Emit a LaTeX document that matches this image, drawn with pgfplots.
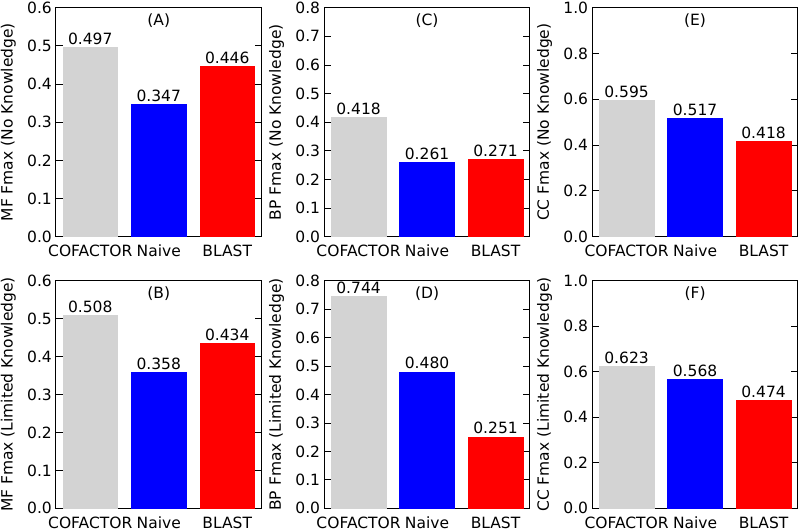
\documentclass[border=0pt]{standalone}
\usepackage{pgfplots}
\pgfplotsset{compat=1.18}
\usepackage{fontspec}
\setmainfont{DejaVu Sans}
\definecolor{cgray}{RGB}{211,211,211}
\definecolor{cblue}{RGB}{0,0,255}
\definecolor{cred}{RGB}{255,0,0}
\newcommand{\myfont}{\fontsize{15.5}{18}\selectfont}
\pgfplotsset{
  panel/.style={
    scale only axis, anchor=south west,
    width=205.5pt,
    xmin=-0.5, xmax=2.5, ymin=0,
    xtick={0,1,2}, xticklabels={COFACTOR,Naive,BLAST},
    x tick style={draw=none},
    ytick pos=both, tick align=inside,
    major tick length=7pt,
    axis line style={line width=1pt},
    y tick style={line width=0.8pt, black},
    tick label style={font=\myfont},
    /pgf/number format/assume math mode=true,
    yticklabel style={inner sep=0pt, xshift=-4pt, /pgf/number format/fixed, /pgf/number format/fixed zerofill, /pgf/number format/precision=1},
    xticklabel style={inner sep=0pt, anchor=north, yshift=-8pt},
    ylabel style={font=\myfont, at={(axis description cs:-0.232,0.5)}, anchor=center, rotate=0},
    clip=false,
    point meta=explicit symbolic,
    nodes near coords,
    every node near coord/.style={font=\myfont, anchor=south, inner sep=0pt, yshift=2.5pt},
  },
  b/.style={ybar, bar width=0.8, bar shift=0pt, fill=#1, draw=#1},
}
\newcommand{\ttl}[1]{\node[font=\myfont, anchor=north, inner sep=0pt, yshift=-5.5pt] at (rel axis cs:0.5,1) {#1};}
\begin{document}
\begin{tikzpicture}[x=1pt,y=1pt]
\path[use as bounding box] (0,0) rectangle (800,529);
% (A)
\begin{axis}[panel, at={(56pt,292.3pt)}, height=229pt, ymax=0.6, ytick={0,0.1,...,0.6}, ylabel={MF Fmax (No Knowledge)}]
\addplot[b=cgray] coordinates {(0,0.497) [0.497]};
\addplot[b=cblue] coordinates {(1,0.347) [0.347]};
\addplot[b=cred] coordinates {(2,0.446) [0.446]};
\ttl{(A)}
\end{axis}
% (C)
\begin{axis}[panel, at={(324.3pt,292.3pt)}, height=229pt, ymax=0.8, ytick={0,0.1,...,0.8}, ylabel={BP Fmax (No Knowledge)}]
\addplot[b=cgray] coordinates {(0,0.418) [0.418]};
\addplot[b=cblue] coordinates {(1,0.261) [0.261]};
\addplot[b=cred] coordinates {(2,0.271) [0.271]};
\ttl{(C)}
\end{axis}
% (E)
\begin{axis}[panel, at={(592.3pt,292.3pt)}, height=229pt, ymax=1.0, ytick={0,0.2,...,1.0}, ylabel={CC Fmax (No Knowledge)}]
\addplot[b=cgray] coordinates {(0,0.595) [0.595]};
\addplot[b=cblue] coordinates {(1,0.517) [0.517]};
\addplot[b=cred] coordinates {(2,0.418) [0.418]};
\ttl{(E)}
\end{axis}
% (B)
\begin{axis}[panel, at={(56pt,20.7pt)}, height=227.6pt, ymax=0.6, ytick={0,0.1,...,0.6}, ylabel={MF Fmax (Limited Knowledge)}]
\addplot[b=cgray] coordinates {(0,0.508) [0.508]};
\addplot[b=cblue] coordinates {(1,0.358) [0.358]};
\addplot[b=cred] coordinates {(2,0.434) [0.434]};
\ttl{(B)}
\end{axis}
% (D)
\begin{axis}[panel, at={(324.3pt,20.7pt)}, height=227.6pt, ymax=0.8, ytick={0,0.1,...,0.8}, ylabel={BP Fmax (Limited Knowledge)}]
\addplot[b=cgray] coordinates {(0,0.744) [0.744]};
\addplot[b=cblue] coordinates {(1,0.480) [0.480]};
\addplot[b=cred] coordinates {(2,0.251) [0.251]};
\ttl{(D)}
\end{axis}
% (F)
\begin{axis}[panel, at={(592.3pt,20.7pt)}, height=227.6pt, ymax=1.0, ytick={0,0.2,...,1.0}, ylabel={CC Fmax (Limited Knowledge)}]
\addplot[b=cgray] coordinates {(0,0.623) [0.623]};
\addplot[b=cblue] coordinates {(1,0.568) [0.568]};
\addplot[b=cred] coordinates {(2,0.474) [0.474]};
\ttl{(F)}
\end{axis}
\end{tikzpicture}
\end{document}
